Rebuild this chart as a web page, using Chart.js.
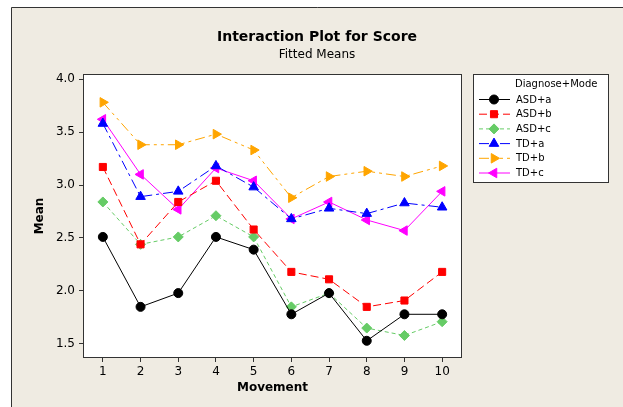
<!DOCTYPE html>
<html>
<head>
<meta charset="utf-8">
<script src="https://cdn.jsdelivr.net/npm/chart.js@4/dist/chart.umd.min.js"></script>
<style>
    html, body { margin: 0; padding: 0; background: #fff; }
    #wrap { width: 623px; height: 407px; position: relative; }
</style>
</head>
<body>
<div id="wrap"><canvas id="plot" width="623" height="407"></canvas></div>
<script>
// Interaction plot data (fitted means)
const movements = ['1', '2', '3', '4', '5', '6', '7', '8', '9', '10'];
const asdA = [2.51, 1.85, 1.98, 2.51, 2.39, 1.78, 1.98, 1.53, 1.78, 1.78];
const asdB = [3.17, 2.44, 2.84, 3.04, 2.58, 2.18, 2.11, 1.85, 1.91, 2.18];
const asdC = [2.84, 2.44, 2.51, 2.71, 2.51, 1.85, 1.98, 1.65, 1.58, 1.71];
const tdA = [3.58, 2.89, 2.94, 3.18, 2.98, 2.68, 2.78, 2.73, 2.83, 2.79];
const tdB = [3.78, 3.38, 3.38, 3.48, 3.33, 2.88, 3.08, 3.13, 3.08, 3.18];
const tdC = [3.62, 3.10, 2.77, 3.16, 3.04, 2.68, 2.84, 2.67, 2.57, 2.94];
const yTicks = [1.5, 2.0, 2.5, 3.0, 3.5, 4.0];

const FONT = 'DejaVu Sans';

function series(label, data, color, dash, style, rot, radius) {
    return {
        label: label,
        data: data,
        borderColor: color,
        backgroundColor: color,
        borderWidth: 1,
        borderDash: dash,
        pointStyle: style,
        pointRotation: rot,
        pointRadius: radius,
        pointBorderWidth: 1,
        pointBorderColor: color,
        pointBackgroundColor: color,
        tension: 0
    };
}

// frame, titles, box around plot and the legend
const decorations = {
    id: 'decorations',
    beforeDraw(chart) {
        const ctx = chart.ctx;
        ctx.save();
        ctx.fillStyle = '#ffffff';
        ctx.fillRect(0, 0, chart.width, chart.height);
        ctx.fillStyle = '#efebe2';
        ctx.fillRect(11, 7, chart.width - 11, chart.height - 7);
        ctx.strokeStyle = '#333333';
        ctx.lineWidth = 1;
        ctx.beginPath();
        ctx.moveTo(11.5, chart.height);
        ctx.lineTo(11.5, 7.5);
        ctx.lineTo(chart.width, 7.5);
        ctx.stroke();
        const a = chart.chartArea;
        ctx.fillStyle = '#ffffff';
        ctx.fillRect(a.left, a.top, a.right - a.left, a.bottom - a.top);
        ctx.restore();
    },
    afterDraw(chart) {
        const ctx = chart.ctx;
        const a = chart.chartArea;
        ctx.save();
        ctx.strokeStyle = '#333333';
        ctx.lineWidth = 1;
        ctx.strokeRect(Math.round(a.left) - 0.5, Math.round(a.top) - 0.5,
            Math.round(a.right - a.left) + 1, Math.round(a.bottom - a.top) + 1);

        ctx.fillStyle = '#000';
        ctx.textAlign = 'center';
        ctx.textBaseline = 'middle';
        ctx.font = 'bold 14px ' + FONT;
        ctx.fillText('Interaction Plot for Score', 317, 37);
        ctx.font = '12px ' + FONT;
        ctx.fillText('Fitted Means', 317, 55);

        ctx.font = 'bold 12px ' + FONT;
        ctx.fillText('Movement', (a.left + a.right) / 2, 388);
        ctx.save();
        ctx.translate(40, (a.top + a.bottom) / 2);
        ctx.rotate(-Math.PI / 2);
        ctx.fillText('Mean', 0, 0);
        ctx.restore();

        // legend box
        const lx = 473, ly = 74, lw = 135, lh = 108;
        ctx.fillStyle = '#fff';
        ctx.fillRect(lx, ly, lw, lh);
        ctx.strokeStyle = '#333';
        ctx.strokeRect(lx + 0.5, ly + 0.5, lw, lh);
        ctx.fillStyle = '#000';
        ctx.textAlign = 'left';
        ctx.font = '10px ' + FONT;
        ctx.fillText('Diagnose+Mode', 515, 84.5);
        chart.data.datasets.forEach((ds, i) => {
            const y = 99.5 + i * 14.7;
            ctx.save();
            ctx.strokeStyle = ds.borderColor;
            ctx.lineWidth = 1;
            ctx.setLineDash(ds.borderDash);
            ctx.beginPath();
            ctx.moveTo(479, y);
            ctx.lineTo(510, y);
            ctx.stroke();
            ctx.restore();
            ctx.save();
            ctx.fillStyle = ds.pointBackgroundColor;
            ctx.strokeStyle = ds.pointBorderColor;
            Chart.helpers.drawPoint(ctx, {
                pointStyle: ds.pointStyle,
                rotation: ds.pointRotation,
                radius: ds.pointRadius,
                borderWidth: 1
            }, 494, y);
            ctx.restore();
            ctx.fillStyle = '#000';
            ctx.fillText(ds.label, 516, y + 0.5);
        });
        ctx.restore();
    }
};

const ctx = document.getElementById('plot').getContext('2d');
new Chart(ctx, {
    type: 'line',
    data: {
        labels: movements,
        datasets: [
            series('ASD+a', asdA, '#000000', [], 'circle', 0, 4.5),
            series('ASD+b', asdB, '#ff0000', [8, 4], 'rect', 0, 5),
            series('ASD+c', asdC, '#66cc66', [4, 3], 'rectRot', 0, 5),
            series('TD+a', tdA, '#0000ff', [10, 4, 3, 4], 'triangle', 0, 5.5),
            series('TD+b', tdB, '#ffa500', [10, 4, 3, 4, 3, 4], 'triangle', 90, 5.5),
            series('TD+c', tdC, '#ff00ff', [], 'triangle', -90, 5.5)
        ]
    },
    options: {
        responsive: false,
        animation: false,
        events: [],
        layout: { padding: { left: 0, right: 162, top: 75, bottom: 20 } },
        plugins: {
            legend: { display: false },
            tooltip: { enabled: false }
        },
        scales: {
            x: {
                type: 'category',
                offset: true,
                afterFit(scale) { scale.height = 30; },
                border: { display: false },
                grid: { drawOnChartArea: false, drawTicks: true, tickLength: 5, color: '#333', offset: false },
                ticks: { color: '#000', font: { family: FONT, size: 12 }, padding: 3, maxRotation: 0 }
            },
            y: {
                min: 1.377,
                max: 4.038,
                afterFit(scale) { scale.width = 84; },
                afterBuildTicks(scale) { scale.ticks = yTicks.map(v => ({ value: v })); },
                border: { display: false },
                grid: { drawOnChartArea: false, drawTicks: true, tickLength: 5, color: '#333' },
                ticks: {
                    color: '#000',
                    font: { family: FONT, size: 12 },
                    padding: 4,
                    callback: v => v.toFixed(1)
                }
            }
        }
    },
    plugins: [decorations]
});
</script>
</body>
</html>
